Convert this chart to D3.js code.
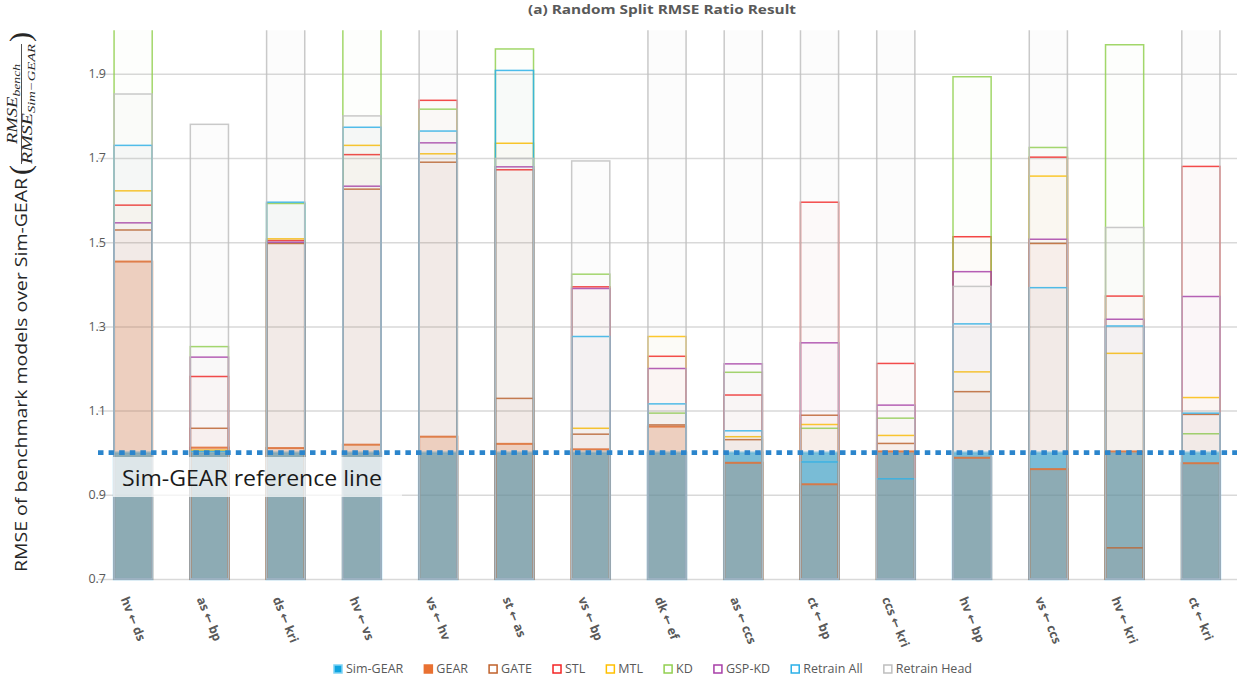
<!DOCTYPE html>
<html><head><meta charset="utf-8">
<script src="https://cdn.jsdelivr.net/npm/d3@7"></script>
<style>
html,body{margin:0;padding:0;background:#fff;}
svg{display:block;font-family:"Open Sans","DejaVu Sans",sans-serif;}
</style></head><body>
<svg id="chart" width="1237" height="683"></svg>
<script>
// Transfer pairs (target ← source)
const categories = ["hv ← ds", "as ← bp", "ds ← kri", "hv ← vs", "vs ← hv", "st ← as", "vs ← bp", "dk ← ef",
  "as ← ccs", "ct ← bp", "ccs ← kri", "hv ← bp", "vs ← ccs", "hv ← kri", "ct ← kri"];

// RMSE ratio of each model over Sim-GEAR (values above 2.0 run past the top of the axis)
const simGear     = [1, 1, 1, 1, 1, 1, 1, 1, 1, 1, 1, 1, 1, 1, 1];
const gear        = [1.454, 1.012, 1.011, 1.019, 1.038, 1.021, 1.008, 1.062, 0.976, 0.925, 1.003, 0.988, 0.961, 1.003, 0.975];
const gate        = [1.529, 1.058, 1.497, 1.626, 1.690, 1.129, 1.044, 1.066, 1.031, 1.089, 1.022, 1.145, 1.497, 0.774, 1.091];
const stl         = [1.588, 1.181, 1.504, 1.708, 1.837, 1.672, 1.394, 1.229, 1.137, 1.595, 1.212, 1.513, 1.702, 1.372, 1.680];
const mtl         = [1.622, 1.006, 1.508, 1.730, 1.710, 1.735, 1.058, 1.276, 1.038, 1.067, 1.041, 1.192, 1.657, 1.236, 1.131];
const kd          = [2.05, 1.252, 1.592, 2.05, 1.816, 1.959, 1.424, 1.094, 1.191, 1.058, 1.082, 1.893, 1.725, 1.969, 1.045];
const gspKd       = [1.546, 1.227, 1.500, 1.633, 1.736, 1.679, 1.390, 1.200, 1.211, 1.261, 1.113, 1.430, 1.507, 1.317, 1.371];
const retrainAll  = [1.730, 1.003, 1.595, 1.773, 1.764, 1.908, 1.276, 1.116, 1.052, 0.978, 0.938, 1.306, 1.392, 1.301, 1.094];
const retrainHead = [1.852, 1.780, 2.05, 1.800, 2.05, 1.699, 1.693, 2.05, 2.05, 2.05, 2.05, 1.395, 2.05, 1.535, 2.05];

const yTicks = [0.7, 0.9, 1.1, 1.3, 1.5, 1.7, 1.9];
const referenceValue = 1.0;

// Series drawn back to front, all bars overlapping in the same slot
const series = [
  {name: "Sim-GEAR",     values: simGear,     fill: "#0fa4e0", fo: 0.60, stroke: "#5cc6f2", so: 0.65, sw: 2.5},
  {name: "GEAR",         values: gear,        fill: "#E97132", fo: 0.22, stroke: "#E97132", so: 0.90, sw: 2},
  {name: "GATE",         values: gate,        fill: "#C0612B", fo: 0.035, stroke: "#C0612B", so: 0.85, sw: 1.5},
  {name: "STL",          values: stl,         fill: "#FF0000", fo: 0.012, stroke: "#F42424", so: 0.85, sw: 1.5},
  {name: "MTL",          values: mtl,         fill: "#FFC000", fo: 0.02, stroke: "#FFC000", so: 0.85, sw: 1.5},
  {name: "KD",           values: kd,          fill: "#92D050", fo: 0.015, stroke: "#92D050", so: 0.85, sw: 1.5},
  {name: "GSP-KD",       values: gspKd,       fill: "#A83FA8", fo: 0.015, stroke: "#A83FA8", so: 0.85, sw: 1.5},
  {name: "Retrain All",  values: retrainAll,  fill: "#5A7FA8", fo: 0.03, stroke: "#2BB0E8", so: 0.85, sw: 1.5},
  {name: "Retrain Head", values: retrainHead, fill: "#BFBFBF", fo: 0.05, stroke: "#BFBFBF", so: 0.85, sw: 1.5}
];

const svg = d3.select("#chart");
const plotLeft = 95, plotRight = 1239, plotTop = 31.7, plotBottom = 579;

const x = d3.scaleBand().domain(categories).range([plotLeft, plotRight]).paddingInner(0.5).paddingOuter(0.25);
const y = d3.scaleLinear().domain([0.7, 2.0]).range([plotBottom, plotTop]);

svg.append("defs").append("clipPath").attr("id", "plotClip")
  .append("rect").attr("x", 0).attr("y", plotTop - 1.5).attr("width", 1237).attr("height", plotBottom - plotTop + 6);

// Title
svg.append("text").attr("x", 662).attr("y", 14).attr("text-anchor", "middle")
  .attr("font-size", 13).attr("font-weight", "bold").attr("fill", "#595959")
  .attr("textLength", 268).attr("lengthAdjust", "spacingAndGlyphs")
  .text("(a) Random Split RMSE Ratio Result");

// Gridlines
const yAxis = d3.axisLeft(y).tickValues(yTicks).tickFormat("").tickSize(-(1237 - 98));
const gy = svg.append("g").attr("transform", "translate(98,0)").call(yAxis);
gy.select(".domain").remove();
gy.selectAll(".tick line").attr("stroke", "#d9d9d9").attr("stroke-width", 1.5);

// Y tick labels
svg.append("g").selectAll("text").data(yTicks).join("text")
  .attr("x", 106).attr("y", d => y(d)).attr("dy", "0.35em").attr("text-anchor", "end")
  .attr("font-size", 12.5).attr("fill", "#595959")
  .text(d3.format(".1f"));

// Overlapping bars
const plot = svg.append("g").attr("clip-path", "url(#plotClip)");
series.forEach(s => {
  plot.append("g").selectAll("rect")
    .data(categories.map((c, i) => ({c, v: s.values[i]})))
    .join("rect")
    .attr("x", d => x(d.c))
    .attr("width", x.bandwidth())
    .attr("y", d => y(d.v))
    .attr("height", d => y(0.7) - y(d.v))
    .attr("fill", s.fill).attr("fill-opacity", s.fo)
    .attr("stroke", s.stroke).attr("stroke-opacity", s.so).attr("stroke-width", s.sw);
});

// Reference line at ratio 1.0
svg.append("line").attr("x1", 98).attr("x2", 1237)
  .attr("y1", y(referenceValue)).attr("y2", y(referenceValue))
  .attr("stroke", "#2b85cc").attr("stroke-width", 4.8).attr("stroke-dasharray", "5.5 5.1");

// Reference line caption
const capG = svg.append("g");
capG.append("rect").attr("x", 113).attr("y", 457).attr("width", 289).attr("height", 40)
  .attr("fill", "#ffffff").attr("fill-opacity", 0.7);
capG.append("text").attr("x", 122).attr("y", 486).attr("font-size", 21.5)
  .attr("textLength", 260).attr("lengthAdjust", "spacingAndGlyphs")
  .attr("fill", "#1a1a1a").text("Sim-GEAR reference line");

// Category labels, rotated
const sinA = Math.sin(68 * Math.PI / 180), cosA = Math.cos(68 * Math.PI / 180);
categories.forEach(c => {
  const t = svg.append("text").attr("font-size", 12.5).attr("font-weight", "bold").attr("fill", "#595959")
    .attr("text-anchor", "middle").attr("dy", "0.35em").text(c);
  const L = t.node().getComputedTextLength();
  const cx = x(c) + x.bandwidth() / 2;
  const cy = 595 + (L / 2) * sinA + 6 * cosA;
  t.attr("transform", `translate(${cx},${cy}) rotate(68)`);
});

// Y-axis title with fraction
const mainLen = 394, denStart = 408, denLen = 120, numLen = 80;
const yt = svg.append("g").attr("transform", "translate(27,572) rotate(-90)");
yt.append("text").attr("x", 0).attr("y", 0).attr("font-size", 16).attr("fill", "#262626")
  .attr("textLength", mainLen).attr("lengthAdjust", "spacingAndGlyphs")
  .text("RMSE of benchmark models over Sim-GEAR");
const mathFont = "'Liberation Serif','DejaVu Serif',serif";
yt.append("text").attr("x", mainLen + 3).attr("y", 3).attr("font-size", 30).attr("fill", "#262626")
  .attr("font-family", mathFont).text("(");
const den = yt.append("text").attr("x", denStart).attr("y", 5).attr("font-size", 15).attr("fill", "#262626")
  .attr("font-family", mathFont).attr("font-style", "italic")
  .attr("textLength", denLen).attr("lengthAdjust", "spacingAndGlyphs");
den.append("tspan").text("RMSE");
den.append("tspan").attr("font-size", 11).attr("dy", 2.5).text("Sim−GEAR");
const num = yt.append("text").attr("x", denStart + (denLen - numLen) / 2).attr("y", -10).attr("font-size", 15)
  .attr("fill", "#262626").attr("font-family", mathFont).attr("font-style", "italic")
  .attr("textLength", numLen).attr("lengthAdjust", "spacingAndGlyphs");
num.append("tspan").text("RMSE");
num.append("tspan").attr("font-size", 11).attr("dy", 2.5).text("bench");
yt.append("line").attr("x1", denStart).attr("x2", denStart + denLen).attr("y1", -5.5).attr("y2", -5.5)
  .attr("stroke", "#262626").attr("stroke-width", 0.8);
yt.append("text").attr("x", denStart + denLen + 2).attr("y", 3).attr("font-size", 30).attr("fill", "#262626")
  .attr("font-family", mathFont).text(")");

// Legend
const legend = svg.append("g");
const legendItems = [];
let textSum = 0;
series.forEach((s, i) => {
  const g = legend.append("g");
  const solid = i < 2;
  g.append("rect").attr("x", 0).attr("y", -4).attr("width", 8).attr("height", 8)
    .attr("fill", solid ? s.fill : "#ffffff")
    .attr("stroke", i === 0 ? "#7fd3f5" : s.stroke).attr("stroke-width", 1.5);
  const t = g.append("text").attr("x", 12).attr("y", 4.3).attr("font-size", 12.5).attr("fill", "#595959").text(s.name);
  const w = 12 + t.node().getComputedTextLength();
  legendItems.push({g, w});
  textSum += w;
});
const legendSpan = 638;
const gap = (legendSpan - textSum) / (legendItems.length - 1);
let lx = 334;
legendItems.forEach(it => {
  it.g.attr("transform", `translate(${lx},669)`);
  lx += it.w + gap;
});
</script>
</body></html>
